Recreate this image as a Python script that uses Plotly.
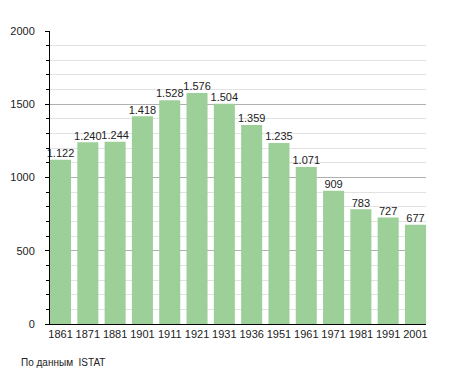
import plotly.graph_objects as go

years = ["1861", "1871", "1881", "1901", "1911", "1921", "1931", "1936", "1951", "1961", "1971", "1981", "1991", "2001"]
population = [1122, 1240, 1244, 1418, 1528, 1576, 1504, 1359, 1235, 1071, 909, 783, 727, 677]
y_ticks = [0, 500, 1000, 1500, 2000]

labels = [f"{v:,}".replace(",", ".") for v in population]
xpos = list(range(len(years)))
w = 0.77
FONT = "Liberation Sans, Arial, sans-serif"

fig = go.Figure()
fig.add_trace(go.Bar(
    x=xpos, y=population, width=w,
    marker=dict(color="#9dcf99", line=dict(width=0)),
    hoverinfo="skip",
))
fig.add_trace(go.Scatter(
    x=xpos, y=population, mode="text",
    text=labels, textposition="top center", cliponaxis=False,
    textfont=dict(family=FONT, size=11, color="#222"),
    hoverinfo="skip",
))

fig.update_layout(
    width=447, height=365,
    margin=dict(l=42, r=29, t=23, b=49),
    paper_bgcolor="white", plot_bgcolor="white",
    showlegend=False,
    font=dict(family=FONT, size=11, color="#222"),
)
fig.update_xaxes(
    tickmode="array", tickvals=xpos, ticktext=years,
    range=[-w / 2, len(years) - 1 + w / 2],
    showline=True, linecolor="black", linewidth=1,
    ticks="", showgrid=False, zeroline=False, automargin=False,
    tickfont=dict(size=11, color="#222"),
)
fig.update_yaxes(
    range=[0, 2000], tickvals=y_ticks,
    showline=True, linecolor="black", linewidth=1,
    ticks="outside", ticklen=4, tickcolor="black",
    ticklabelstandoff=8, automargin=False,
    showgrid=True, gridcolor="#b0b0b0", gridwidth=1,
    zeroline=False,
    minor=dict(dtick=100, showgrid=True, gridcolor="#e2e2e2", ticks="outside", ticklen=3, tickcolor="black"),
    tickfont=dict(size=11, color="#222"),
)
fig.add_annotation(
    text="По данным  ISTAT", xref="paper", yref="paper",
    x=0, xanchor="left", y=0, yanchor="top",
    xshift=-31, yshift=-31, showarrow=False,
    font=dict(size=10, color="#222"),
)

fig.write_html("out.html")
